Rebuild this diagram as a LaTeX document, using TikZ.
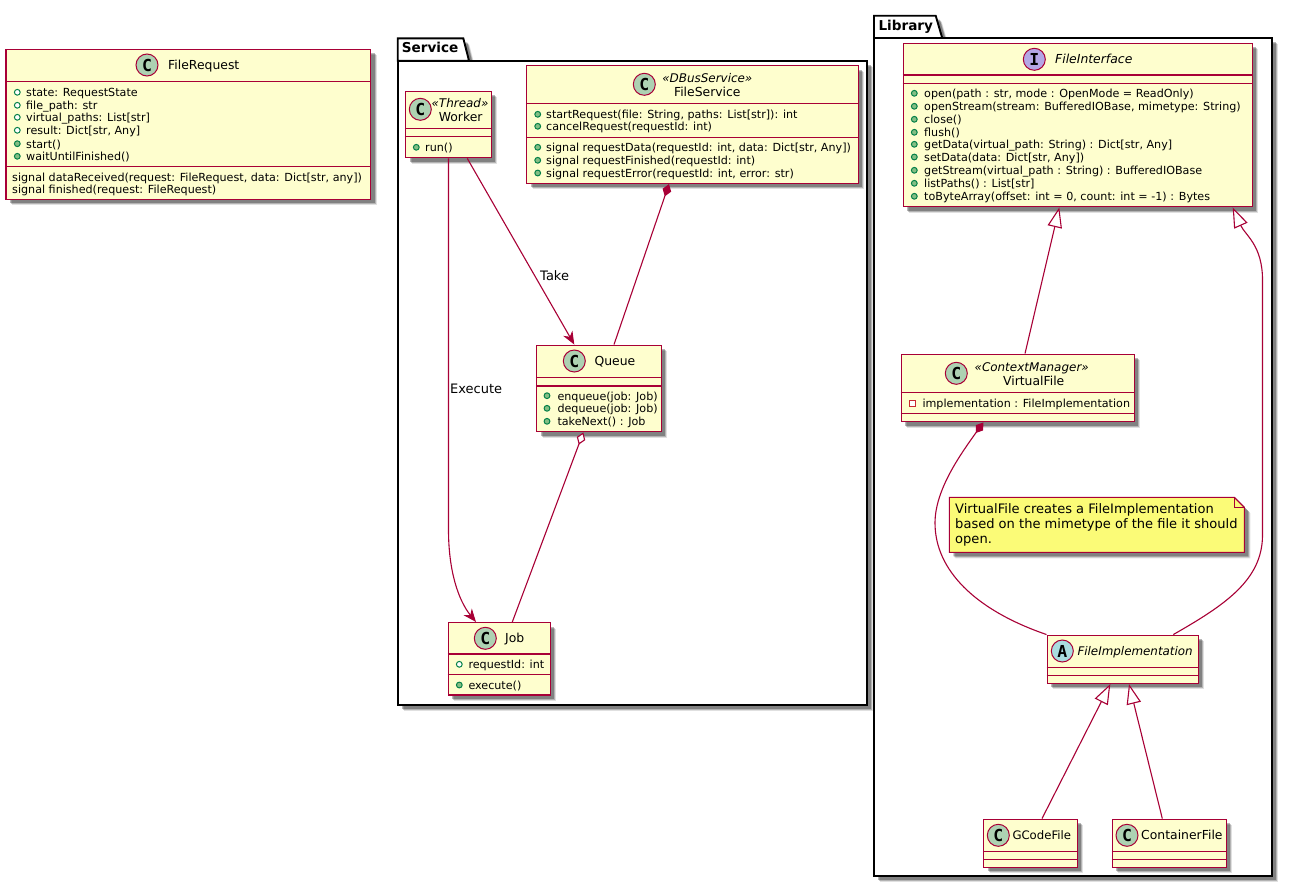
\documentclass[tikz,border=0pt]{standalone}
\usepackage{fontspec}
\setmainfont{DejaVu Sans}
\newfontfamily\spotfont{DejaVu Sans Mono}
\usetikzlibrary{arrows.meta,shadows}
\definecolor{umlred}{HTML}{A80036}
\definecolor{umlfill}{HTML}{FEFECE}
\definecolor{notefill}{HTML}{FBFB77}
\definecolor{spotc}{HTML}{ADD1B2}
\definecolor{spoti}{HTML}{B4A7E5}
\definecolor{spota}{HTML}{A9DCDF}
\definecolor{bulletg}{HTML}{038048}
\definecolor{bulletf}{HTML}{84BE84}
\definecolor{bulletr}{HTML}{C82930}
\newcount\txtc
\tikzset{
  softshadow/.style={
    drop shadow={shadow xshift=6pt,shadow yshift=-6pt,opacity=.12,fill=black},
    drop shadow={shadow xshift=5pt,shadow yshift=-5pt,opacity=.2,fill=black},
    drop shadow={shadow xshift=4pt,shadow yshift=-4pt,opacity=.28,fill=black}},
  classbox/.style={draw=umlred,fill=umlfill,line width=1.5pt,inner sep=0pt,rectangle,softshadow},
  classline/.style={draw=umlred,line width=1.2pt},
  txt/.style={inner sep=0pt,anchor=base west,font=\fontsize{11.15}{13}\selectfont},
  title/.style={inner sep=0pt,anchor=base west,font=\fontsize{12.4}{14}\selectfont},
  ntitle/.style={inner sep=0pt,anchor=base west,font=\fontsize{11.7}{14}\selectfont},
  ctitle/.style={inner sep=0pt,anchor=base,font=\fontsize{12.4}{14}\selectfont},
  stereo/.style={inner sep=0pt,anchor=base,font=\fontsize{11.95}{14}\itshape\selectfont},
  ititle/.style={inner sep=0pt,anchor=base west,font=\fontsize{12.4}{14}\itshape\selectfont},
  nititle/.style={inner sep=0pt,anchor=base west,font=\fontsize{11.9}{14}\itshape\selectfont},
  lbl/.style={inner sep=0pt,anchor=base west,font=\fontsize{13}{15}\selectfont},
  notetxt/.style={inner sep=0pt,anchor=base west,font=\fontsize{13.05}{15}\selectfont},
  pkgtitle/.style={inner sep=0pt,anchor=base west,font=\fontsize{13.6}{15}\bfseries\selectfont},
  pkg/.style={draw=black,fill=white,line width=1.9pt,softshadow},
  pkgbody/.style={draw=black,fill=white,line width=1.9pt,inner sep=0pt,rectangle,softshadow},
  spotnode/.style={circle,draw=umlred,line width=1pt,minimum size=22pt,inner sep=0pt,font=\fontsize{16.5}{17}\spotfont\bfseries\selectfont},
  fieldb/.style={draw=bulletg,line width=1pt,fill=white},
  methb/.style={draw=bulletg,line width=1pt,fill=bulletf},
  privb/.style={draw=bulletr,line width=1pt,fill=white},
  conn/.style={draw=umlred,line width=1.1pt},
  head/.style={-{Stealth[length=13pt,width=10.5pt,inset=4pt]}},
  inh/.style={-{Triangle[open,length=20pt,width=14.5pt,fill=white]}},
  comp/.style={{Diamond[length=13pt,width=9pt,fill=umlred]}-},
  aggr/.style={{Diamond[open,length=13pt,width=9pt,fill=white]}-},
}
\newcommand{\umlbox}[7]{%
  \node[classbox,minimum width={(#4-#2)*1pt},minimum height={(#5-#3)*1pt}] (#1) at ({(#2+#4)/2},{(#3+#5)/2}) {};
  \draw[classline] (#1.west |- 0,#6) -- (#1.east |- 0,#6);
  \draw[classline] (#1.west |- 0,#7) -- (#1.east |- 0,#7);}
\newcommand{\spot}[5]{\node[spotnode,fill=#4] (#1) at (#2,#3) {#5};}
\newcommand{\tx}[4]{\global\advance\txtc by 1
  \node[#1] (t\the\txtc) at ({#2},{#3+4.6}) {#4};}
\newcommand{\fld}[4]{\draw[fieldb] (#1,#3) circle[radius=2.9pt]; \tx{txt}{#2}{#3}{#4}}
\newcommand{\mth}[4]{\draw[methb] (#1,#3) circle[radius=2.9pt]; \tx{txt}{#2}{#3}{#4}}
\begin{document}
\begin{tikzpicture}[x=1pt,y=-1pt]
\useasboundingbox (0,0) rectangle (1292,886);
\fill[white] (0,0) rectangle (1292,886);
% packages
\draw[pkg] (397.7,60.7) -- (397.7,38.3) -- (463.3,38.3) -- (469,60.7) -- cycle;
\node[pkgbody,minimum width=469pt,minimum height=644.3pt] (service) at (632.2,382.85) {};
\tx{pkgtitle}{401.7}{48.3}{Service}
\draw[pkg] (874,38.3) -- (874,15.7) -- (935.7,15.7) -- (942.3,38.3) -- cycle;
\node[pkgbody,minimum width=397.7pt,minimum height=837.7pt] (library) at (1072.85,457.15) {};
\tx{pkgtitle}{878.3}{26}{Library}
% FileRequest
\umlbox{filerequest}{6}{49.3}{370.6}{199.3}{81.7}{166.7}
\spot{srequest}{147}{65}{spotc}{C}
\tx{title}{168}{65}{FileRequest}
\fld{17.3}{26}{92.3}{state: RequestState}
\fld{17.3}{26}{105.3}{file\_path: str}
\fld{17.3}{26}{117.3}{virtual\_paths: List[str]}
\fld{17.3}{26}{130.3}{result: Dict[str, Any]}
\mth{17.3}{26}{143.7}{start()}
\mth{17.3}{26}{156.3}{waitUntilFinished()}
\tx{txt}{12}{177.3}{signal dataReceived(request: FileRequest, data: Dict[str, any])}
\tx{txt}{12}{189.3}{signal finished(request: FileRequest)}
% FileService
\umlbox{fileservice}{526.7}{65.7}{858.3}{183.3}{103.3}{137.7}
\spot{sservice}{644.3}{84.3}{spotc}{C}
\tx{stereo}{707.3}{78.3}{«DBusService»}
\tx{ctitle}{707.3}{91.7}{FileService}
\mth{537.7}{546}{114.3}{startRequest(file: String, paths: List[str]): int}
\mth{537.7}{546}{126.3}{cancelRequest(requestId: int)}
\mth{537.7}{546}{147.3}{signal requestData(requestId: int, data: Dict[str, Any])}
\mth{537.7}{546}{160.3}{signal requestFinished(requestId: int)}
\mth{537.7}{546}{173}{signal requestError(requestId: int, error: str)}
% Worker
\umlbox{worker}{405.7}{91.3}{491.3}{157.7}{128.3}{136.7}
\spot{sworker}{420.3}{109.3}{spotc}{C}
\tx{stereo}{460}{102.7}{«Thread»}
\tx{ctitle}{460.7}{116.7}{Worker}
\mth{416.3}{425}{147.3}{run()}
% Queue
\umlbox{queue}{536.7}{345.3}{661.3}{431.7}{377.3}{386}
\spot{squeue}{574.3}{361}{spotc}{C}
\tx{title}{594.3}{361}{Queue}
\mth{547}{557.3}{395.7}{enqueue(job: Job)}
\mth{547}{557.3}{408.3}{dequeue(job: Job)}
\mth{547}{557.3}{421.3}{takeNext() : Job}
% Job
\umlbox{job}{448.3}{622.7}{550.3}{695}{654}{674.7}
\spot{sjob}{485.3}{638.3}{spotc}{C}
\tx{title}{505}{638.3}{Job}
\fld{459.3}{468.3}{664.3}{requestId: int}
\mth{459.3}{468.3}{685}{execute()}
% FileInterface
\umlbox{fileinterface}{903.3}{43.3}{1252.3}{206.7}{75}{83.3}
\spot{sinterface}{1034.3}{59.3}{spoti}{I}
\tx{ititle}{1055}{59.3}{FileInterface}
\mth{914.3}{924}{93.3}{open(path : str, mode : OpenMode = ReadOnly)}
\mth{914.3}{924}{106.3}{openStream(stream: BufferedIOBase, mimetype: String)}
\mth{914.3}{924}{119.3}{close()}
\mth{914.3}{924}{132.3}{flush()}
\mth{914.3}{924}{144.3}{getData(virtual\_path: String) : Dict[str, Any]}
\mth{914.3}{924}{157}{setData(data: Dict[str, Any])}
\mth{914.3}{924}{170.3}{getStream(virtual\_path : String) : BufferedIOBase}
\mth{914.3}{924}{183.3}{listPaths() : List[str]}
\mth{914.3}{924}{196.3}{toByteArray(offset: int = 0, count: int = -1) : Bytes}
% VirtualFile
\umlbox{virtualfile}{901.3}{354.3}{1134.3}{421.7}{392.3}{413.3}
\spot{svirtual}{956.3}{373.3}{spotc}{C}
\tx{stereo}{1031.7}{366.7}{«ContextManager»}
\tx{ctitle}{1033.7}{380.7}{VirtualFile}
\draw[privb] (909.3,400.3) rectangle (915.3,406.3);
\tx{txt}{922.3}{403.3}{implementation : FileImplementation}
% Note
\draw[draw=umlred,fill=notefill,line width=1.1pt,softshadow] (949.3,497.3) -- (1234.3,497.3) -- (1244.3,507.3) -- (1244.3,552.3) -- (949.3,552.3) -- cycle;
\draw[draw=umlred,line width=1pt] (1234.3,497.3) -- (1234.3,507.3) -- (1244.3,507.3);
\tx{notetxt}{955}{509.3}{VirtualFile creates a FileImplementation}
\tx{notetxt}{955}{524}{based on the mimetype of the file it should}
\tx{notetxt}{955}{539.3}{open.}
% FileImplementation
\umlbox{fileimpl}{1047.3}{635.3}{1198.3}{683.3}{667.3}{675.3}
\spot{simpl}{1062.3}{651}{spota}{A}
\tx{nititle}{1077.3}{651}{FileImplementation}
% GCodeFile
\umlbox{gcode}{983.7}{819.3}{1077.3}{867.3}{851.3}{859.3}
\spot{sgcode}{998.3}{835.3}{spotc}{C}
\tx{ntitle}{1012.3}{835.3}{GCodeFile}
% ContainerFile
\umlbox{container}{1112.3}{819.3}{1226.3}{867.3}{851.3}{859.3}
\spot{scontainer}{1127}{835.3}{spotc}{C}
\tx{title}{1141}{835.3}{ContainerFile}
% connectors
\draw[conn,head] ([xshift=18.8pt]worker.south) -- ([xshift=-24.7pt]queue.north);
\draw[conn,head] (worker.south) -- (448.5,530) .. controls (448.5,570) and (458,600) .. ([xshift=-23.3pt]job.north);
\draw[conn,comp] ([xshift=-23.5pt]fileservice.south) -- ([xshift=15pt]queue.north);
\draw[conn,aggr] ([xshift=-15.7pt]queue.south) -- ([xshift=13pt]job.north);
\draw[conn,inh] ([xshift=7.2pt]virtualfile.north) -- ([xshift=-18.5pt]fileinterface.south);
\draw[conn,comp] ([xshift=-34.5pt]virtualfile.south) .. controls (960,455) and (935,490) .. (935,523) .. controls (935,570) and (975,610) .. (fileimpl.north west);
\draw[conn,inh] ([xshift=50.5pt]fileimpl.north) .. controls (1225,605) and (1262.5,580) .. (1262.5,535) -- (1262.5,280) .. controls (1262.5,245) and (1245,235) .. ([xshift=154.9pt]fileinterface.south);
\draw[conn,inh] ([xshift=11.5pt]gcode.north) -- ([xshift=-12.5pt]fileimpl.south);
\draw[conn,inh] ([xshift=-7pt]container.north) -- ([xshift=6.2pt]fileimpl.south);
\tx{lbl}{540}{276}{Take}
\tx{lbl}{450}{388.5}{Execute}
\end{tikzpicture}
\end{document}
